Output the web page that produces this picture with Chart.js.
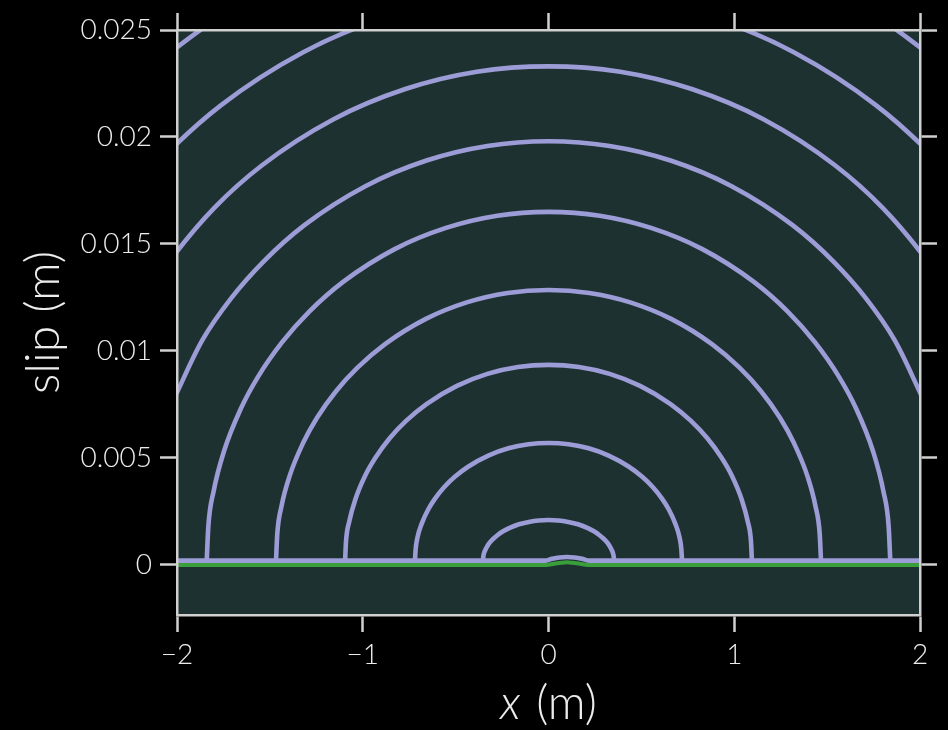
<!DOCTYPE html>
<html>
<head>
<meta charset="utf-8">
<script src="https://cdn.jsdelivr.net/npm/chart.js@4.4.1/dist/chart.umd.min.js"></script>
<style>
  html, body { margin: 0; padding: 0; background: #000; }
  canvas { display: block; }
</style>
</head>
<body>
<canvas id="c" width="948" height="730"></canvas>
<script>
// ---- tick values and labels ----
const xTicks = [-2, -1, 0, 1, 2];
const xTickLabels = ['\u22122', '\u22121', '0', '1', '2'];
const yTicks = [0, 0.005, 0.01, 0.015, 0.02, 0.025];
const yTickLabels = ['0', '0.005', '0.01', '0.015', '0.02', '0.025'];
const xTitleVar = 'x';
const xTitleUnit = ' (m)';
const yTitle = 'slip (m)';

// ---- initial slip (green) ----
const initX = [-2, -0.01, 0.03, 0.07, 0.10, 0.13, 0.17, 0.21, 2];
const initY = [0, 0, 0.00006, 0.0001, 0.00012, 0.0001, 0.00006, 0, 0];

// ---- earliest slip profile (lavender baseline with tiny bump) ----
const p0X = [-2, -0.02, 0.02, 0.06, 0.10, 0.14, 0.18, 0.22, 2];
const p0Y = [0.0002, 0.0002, 0.00029, 0.00035, 0.00037, 0.00035, 0.00029, 0.0002, 0.0002];

// ---- slip profiles ----
const p1X = [-0.353,-0.351,-0.346,-0.335,-0.318,-0.300,-0.275,-0.247,-0.212,-0.159,-0.106,-0.053,0,0.053,0.106,0.159,0.212,0.247,0.275,0.300,0.318,0.335,0.346,0.351,0.353];
const p1Y = [0.0002,0.00039,0.00058,0.00079,0.00103,0.00120,0.00139,0.00156,0.00172,0.00190,0.00201,0.00208,0.0021,0.00208,0.00201,0.00190,0.00172,0.00156,0.00139,0.00120,0.00103,0.00079,0.00058,0.00039,0.0002];

const p2X = [-0.719,-0.715,-0.705,-0.683,-0.647,-0.611,-0.561,-0.503,-0.431,-0.324,-0.216,-0.108,0,0.108,0.216,0.324,0.431,0.503,0.561,0.611,0.647,0.683,0.705,0.715,0.719];
const p2Y = [0.0002,0.00075,0.00130,0.00192,0.00260,0.00310,0.00364,0.00413,0.00460,0.00511,0.00545,0.00564,0.0057,0.00564,0.00545,0.00511,0.00460,0.00413,0.00364,0.00310,0.00260,0.00192,0.00130,0.00075,0.0002];

const p3X = [-1.095,-1.090,-1.073,-1.040,-0.986,-0.931,-0.854,-0.767,-0.657,-0.493,-0.329,-0.164,0,0.164,0.329,0.493,0.657,0.767,0.854,0.931,0.986,1.040,1.073,1.090,1.095];
const p3Y = [0.0002,0.00111,0.00202,0.00306,0.00419,0.00502,0.00593,0.00673,0.00752,0.00837,0.00893,0.00925,0.00935,0.00925,0.00893,0.00837,0.00752,0.00673,0.00593,0.00502,0.00419,0.00306,0.00202,0.00111,0.0002];

const p4X = [-1.467,-1.460,-1.438,-1.394,-1.320,-1.247,-1.144,-1.027,-0.880,-0.660,-0.440,-0.220,0,0.220,0.440,0.660,0.880,1.027,1.144,1.247,1.320,1.394,1.438,1.460,1.467];
const p4Y = [0.0002,0.00146,0.00272,0.00415,0.00572,0.00687,0.00812,0.00923,0.01032,0.01150,0.01227,0.01271,0.01285,0.01271,0.01227,0.01150,0.01032,0.00923,0.00812,0.00687,0.00572,0.00415,0.00272,0.00146,0.0002];

const p5X = [-1.840,-1.831,-1.803,-1.748,-1.656,-1.564,-1.435,-1.288,-1.104,-0.828,-0.552,-0.276,0,0.276,0.552,0.828,1.104,1.288,1.435,1.564,1.656,1.748,1.803,1.831,1.840];
const p5Y = [0.0002,0.00183,0.00344,0.00529,0.00731,0.00879,0.01040,0.01184,0.01324,0.01476,0.01575,0.01632,0.0165,0.01632,0.01575,0.01476,0.01324,0.01184,0.01040,0.00879,0.00731,0.00529,0.00344,0.00183,0.0002];

const p6X = [-2.190,-2.179,-2.146,-2.081,-1.971,-1.862,-1.708,-1.533,-1.314,-0.986,-0.657,-0.329,0,0.329,0.657,0.986,1.314,1.533,1.708,1.862,1.971,2.081,2.146,2.179,2.190];
const p6Y = [0.0002,0.00216,0.00410,0.00632,0.00860,0.01053,0.01247,0.01419,0.01588,0.01770,0.01890,0.01958,0.0198,0.01958,0.01890,0.01770,0.01588,0.01419,0.01247,0.01053,0.00860,0.00632,0.00410,0.00216,0.0002];

const p7X = [-2.570,-2.557,-2.519,-2.442,-2.313,-2.185,-2.005,-1.799,-1.542,-1.157,-0.771,-0.386,0,0.386,0.771,1.157,1.542,1.799,2.005,2.185,2.313,2.442,2.519,2.557,2.570];
const p7Y = [0.0002,0.00251,0.00480,0.00741,0.01027,0.01237,0.01460,0.01669,0.01868,0.02083,0.02224,0.02305,0.0233,0.02305,0.02224,0.02083,0.01868,0.01669,0.01460,0.01237,0.01027,0.00741,0.00480,0.00251,0.0002];

const p8X = [-2.940,-2.925,-2.881,-2.793,-2.646,-2.499,-2.293,-2.058,-1.764,-1.323,-0.882,-0.441,0,0.441,0.882,1.323,1.764,2.058,2.293,2.499,2.646,2.793,2.881,2.925,2.940];
const p8Y = [0.0002,0.00286,0.00549,0.00850,0.01180,0.01422,0.01685,0.01919,0.02148,0.02395,0.02558,0.02651,0.0268,0.02651,0.02558,0.02395,0.02148,0.01919,0.01685,0.01422,0.01180,0.00850,0.00549,0.00286,0.0002];

const p9X = [-3.310,-3.293,-3.244,-3.145,-2.979,-2.814,-2.582,-2.317,-1.986,-1.490,-0.993,-0.497,0,0.497,0.993,1.490,1.986,2.317,2.582,2.814,2.979,3.145,3.244,3.293,3.310];
const p9Y = [0.0002,0.00321,0.00619,0.00959,0.01332,0.01606,0.01904,0.02169,0.02428,0.02708,0.02892,0.02997,0.0303,0.02997,0.02892,0.02708,0.02428,0.02169,0.01904,0.01606,0.01332,0.00959,0.00619,0.00321,0.0002];

const profiles = [
  [p0X, p0Y], [p1X, p1Y], [p2X, p2Y], [p3X, p3Y], [p4X, p4Y],
  [p5X, p5Y], [p6X, p6Y], [p7X, p7Y], [p8X, p8Y], [p9X, p9Y]
];

// ---- styles ----
const LAVENDER = '#9c9cd6';
const GREEN = '#3a9e3a';
const PLOT_BG = '#1e3131';
const AXIS_COL = '#d0d0d0';
const TEXT_COL = '#ececec';
const FONT = 'Lato';

const toPts = (xs, ys) => xs.map((x, i) => ({ x: x, y: ys[i] }));

const datasets = [
  {
    label: 'initial',
    data: toPts(initX, initY),
    borderColor: GREEN, borderWidth: 4, pointRadius: 0,
    cubicInterpolationMode: 'monotone', clip: 0
  }
].concat(profiles.map((p, k) => ({
  label: 'slip ' + k,
  data: toPts(p[0], p[1]),
  borderColor: LAVENDER, borderWidth: 4.6, pointRadius: 0,
  cubicInterpolationMode: 'monotone', clip: 0
})));

const bgPlugin = {
  id: 'bg',
  beforeDraw(chart) {
    const { ctx, chartArea: a } = chart;
    ctx.save();
    ctx.fillStyle = '#000';
    ctx.fillRect(0, 0, chart.width, chart.height);
    ctx.fillStyle = PLOT_BG;
    ctx.fillRect(a.left, a.top, a.right - a.left, a.bottom - a.top);
    ctx.restore();
  }
};

const xTitlePlugin = {
  id: 'xtitle',
  afterDraw(chart) {
    const { ctx, chartArea: a } = chart;
    const sx = chart.scales.x;
    const cx = (a.left + a.right) / 2;
    const fItal = 'italic 300 47px ' + FONT;
    const fNorm = '300 47px ' + FONT;
    ctx.save();
    ctx.fillStyle = TEXT_COL;
    ctx.textBaseline = 'alphabetic';
    ctx.textAlign = 'left';
    ctx.font = fItal; const w1 = ctx.measureText(xTitleVar).width;
    ctx.font = fNorm; const w2 = ctx.measureText(xTitleUnit).width;
    const x0 = cx - (w1 + w2 + 3) / 2;
    const y = sx.bottom - 11;
    ctx.font = fItal; ctx.fillText(xTitleVar, x0, y);
    ctx.font = fNorm; ctx.fillText(xTitleUnit, x0 + w1 + 3, y);
    ctx.restore();
  }
};

const gridOpts = {
  drawOnChartArea: false, drawTicks: true, tickLength: 17,
  tickWidth: 2.5, tickColor: AXIS_COL
};
const borderOpts = { display: true, color: AXIS_COL, width: 2.5, z: 1 };
const tickFont = { family: FONT, size: 28, weight: '300' };

new Chart(document.getElementById('c'), {
  type: 'line',
  data: { datasets: datasets },
  options: {
    responsive: false,
    animation: false,
    events: [],
    layout: { padding: 0, autoPadding: false },
    plugins: { legend: { display: false }, tooltip: { enabled: false } },
    scales: {
      x: {
        type: 'linear', position: 'bottom', min: -2, max: 2,
        afterBuildTicks: s => { s.ticks = xTicks.map(v => ({ value: v })); },
        afterFit: s => { s.height = 115; },
        ticks: { color: TEXT_COL, font: tickFont, padding: 6, maxRotation: 0,
                 callback: (v, i) => xTickLabels[i] },
        grid: gridOpts, border: borderOpts
      },
      x2: {
        type: 'linear', position: 'top', min: -2, max: 2,
        afterBuildTicks: s => { s.ticks = xTicks.map(v => ({ value: v })); },
        afterFit: s => { s.height = 30; },
        ticks: { display: false },
        grid: gridOpts, border: borderOpts
      },
      y: {
        type: 'linear', position: 'left', min: -0.00234, max: 0.025,
        afterBuildTicks: s => { s.ticks = yTicks.map(v => ({ value: v })); },
        afterFit: s => { s.width = 177; },
        ticks: { color: TEXT_COL, font: tickFont, padding: 8,
                 callback: (v, i) => yTickLabels[i] },
        title: { display: true, text: yTitle, color: TEXT_COL,
                 font: { family: FONT, size: 48, weight: '300', lineHeight: 1 },
                 padding: { top: 20, bottom: 0 } },
        grid: gridOpts, border: borderOpts
      },
      y2: {
        type: 'linear', position: 'right', min: -0.00234, max: 0.025,
        afterBuildTicks: s => { s.ticks = yTicks.map(v => ({ value: v })); },
        afterFit: s => { s.width = 28; },
        ticks: { display: false },
        grid: gridOpts, border: borderOpts
      }
    }
  },
  plugins: [bgPlugin, xTitlePlugin]
});
</script>
</body>
</html>
